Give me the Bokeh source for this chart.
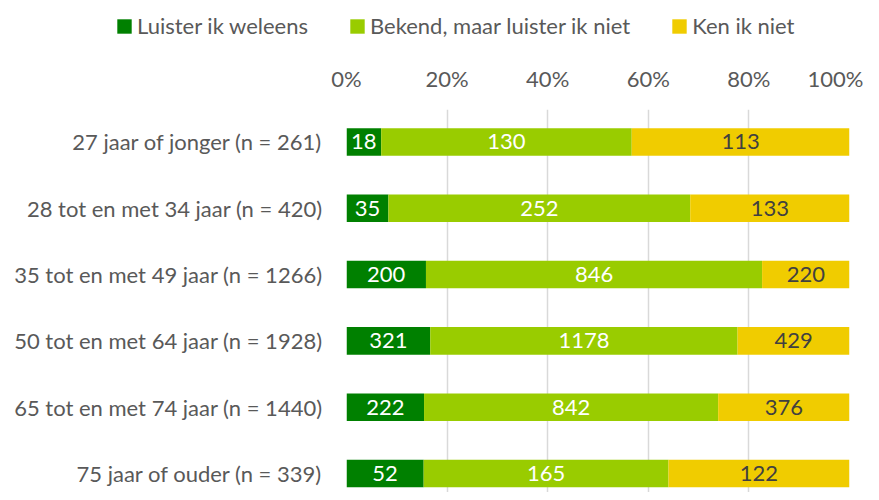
from bokeh.plotting import figure
from bokeh.models import (ColumnDataSource, Range1d, FixedTicker, PrintfTickFormatter,
                          Legend, LegendItem)
from bokeh.layouts import column
from bokeh.core.properties import value
from bokeh.embed import file_html
from bokeh.resources import INLINE

categories = ["27 jaar of jonger (n = 261)",
              "28 tot en met 34 jaar (n = 420)",
              "35 tot en met 49 jaar (n = 1266)",
              "50 tot en met 64 jaar (n = 1928)",
              "65 tot en met 74 jaar (n = 1440)",
              "75 jaar of ouder (n = 339)"]
luister = [18, 35, 200, 321, 222, 52]
bekend = [130, 252, 846, 1178, 842, 165]
ken_niet = [113, 133, 220, 429, 376, 122]
series_names = ["Luister ik weleens", "Bekend, maar luister ik niet", "Ken ik niet"]
colors = ["#008000", "#99CC00", "#F0CC00"]
label_colors = ["white", "white", "#404040"]
x_ticks = [0, 20, 40, 60, 80, 100]

FONT = "Lato"
FS = "22px"
GRAY = "#595959"
W = 863
LEG_H = 50
MAIN_H = 442

pos = list(range(len(categories)))
totals = [a + b + c for a, b, c in zip(luister, bekend, ken_niet)]
counts = [luister, bekend, ken_niet]
pcts = [[v / t * 100 for v, t in zip(s, totals)] for s in counts]

# ---- main chart ----
p = figure(width=W, height=MAIN_H, output_backend="svg", toolbar_location=None,
           x_range=Range1d(0, 100), y_range=Range1d(5.287, -0.490),
           x_axis_location="above", min_border_left=346, min_border_right=14,
           min_border_top=59, min_border_bottom=0)
p.outline_line_color = None

p.xgrid.ticker = FixedTicker(ticks=x_ticks)
p.xgrid.grid_line_color = "#D9D9D9"
p.xgrid.grid_line_width = 1.5
p.ygrid.grid_line_color = None

xa = p.xaxis[0]
xa.ticker = FixedTicker(ticks=x_ticks)
xa.formatter = PrintfTickFormatter(format="%d%%")
xa.axis_line_color = None
xa.major_tick_line_color = None
xa.minor_tick_line_color = None
xa.major_tick_out = 0
xa.major_tick_in = 0
xa.major_label_text_font = FONT
xa.major_label_text_font_size = FS
xa.major_label_text_color = GRAY
xa.major_label_standoff = 18

ya = p.yaxis[0]
ya.ticker = FixedTicker(ticks=pos)
ya.major_label_overrides = {i: c for i, c in zip(pos, categories)}
ya.axis_line_color = None
ya.major_tick_line_color = None
ya.minor_tick_line_color = None
ya.major_tick_out = 0
ya.major_tick_in = 0
ya.major_label_text_font = FONT
ya.major_label_text_font_size = FS
ya.major_label_text_color = GRAY
ya.major_label_standoff = 24

# ---- legend strip (shares data sources; its ranges keep the bars out of view) ----
lg = figure(width=W, height=LEG_H, output_backend="svg", toolbar_location=None,
            min_border=0, x_axis_type=None, y_axis_type=None,
            x_range=Range1d(0, 100), y_range=Range1d(100, 101))
lg.outline_line_color = None
lg.grid.grid_line_color = None
for fig in (p, lg):
    try:
        fig.frame_align = False
    except Exception:
        pass

items = []
left = [0.0] * len(pos)
for name, col, lc, pc, cnt in zip(series_names, colors, label_colors, pcts, counts):
    right = [l + v for l, v in zip(left, pc)]
    src = ColumnDataSource(dict(y=pos, left=left, right=right,
                                mid=[(l + r) / 2 for l, r in zip(left, right)],
                                txt=[str(c) for c in cnt]))
    p.hbar(y="y", left="left", right="right", height=0.415, source=src,
           fill_color=col, line_color=None)
    p.text(x="mid", y="y", text="txt", source=src, text_align="center",
           text_baseline="middle", text_color=lc, text_font=value(FONT),
           text_font_size=FS)
    r = lg.hbar(y="y", left="left", right="right", height=0.415, source=src,
                fill_color=col, line_color=None)
    items.append(LegendItem(label=name, renderers=[r]))
    left = right

legend = Legend(items=items, orientation="horizontal", location=(115, 11),
                glyph_width=18, glyph_height=18, label_standoff=4, spacing=40,
                label_text_font=FONT, label_text_font_size=FS,
                label_text_color=GRAY, border_line_color=None,
                background_fill_alpha=0, padding=0, margin=0)
lg.add_layout(legend)

layout = column(lg, p, spacing=0)
open("out.html", "w").write(file_html(layout, INLINE))
